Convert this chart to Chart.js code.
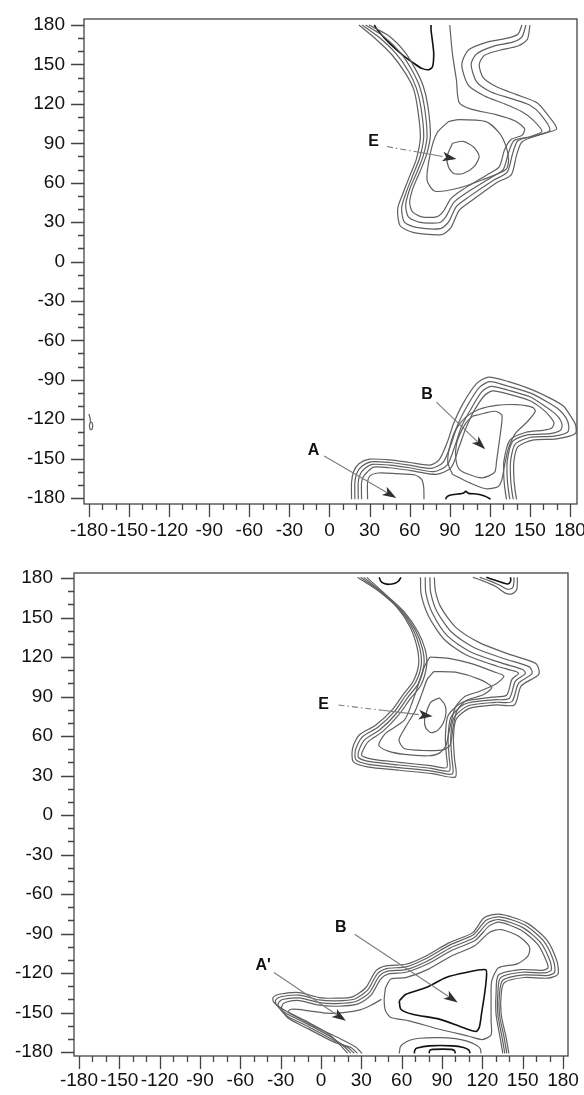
<!DOCTYPE html>
<html>
<head>
<meta charset="utf-8">
<script src="https://cdn.jsdelivr.net/npm/chart.js@4/dist/chart.umd.min.js"></script>
<style>
    html, body { margin: 0; padding: 0; background: #fff; }
    body { width: 584px; height: 1095px; position: relative; overflow: hidden; }
    canvas { position: absolute; left: 0; }
    #top { top: 0; }
    #bottom { top: 546px; }
</style>
</head>
<body>
<canvas id="top" width="584" height="546"></canvas>
<canvas id="bottom" width="584" height="549"></canvas>
<script>
"use strict";

// phi (x) / psi (y) tick labels, degrees
const tickValues = [-180, -150, -120, -90, -60, -30, 0, 30, 60, 90, 120, 150, 180];
const minorStep = 10;

// ---- upper map: contour lines as [phi, psi] ----
const topE1 = [[22,180],[35,169],[47,157],[57,143],[63,131],[66,116],[68,95],[65,78],[60,65],[55,52],[51,40],[53,27],[63,22],[84,20.5],[91,26],[97,39],[106,46],[125,60],[136,66],[140,81],[144,91],[158,97],[170,101],[163,112],[155,121],[140,127],[125,133],[115,140],[112,150],[116,157],[128,161],[141,164],[148,169],[150,180]];
const topE2 = [[24.5,180],[38,170],[50,158],[59,145],[65,132],[68.5,117],[70.5,95],[67.5,79],[62.5,66],[57.5,53],[54,41],[56,30],[65,26],[83,25],[89,30],[95,42],[104,49],[123,62],[133,68],[137,82],[141,92],[156,96],[165,100],[158,112],[150,119],[136,124],[121,129],[110,137],[106,150],[110,158],[123,164],[137,167],[144,171],[147,180]];
const topE3 = [[27,180],[41,171],[53,159],[61.5,146],[67.5,133],[71,118],[73,95],[70,80],[65,67],[60,55],[57,43],[59,34],[67,30],[82,29.5],[87,34],[93,45],[102,52],[121,64],[130,70],[134,83],[138,92],[150,95],[159,99],[152,108],[144,114],[131,120],[116,126],[104,134],[99,150],[104,161],[118,167],[133,170],[141,173],[144,180]];
const topE4 = [[29.5,180],[44,172],[56,160],[64,147],[70,134],[73.5,119],[75.5,96],[72.5,81],[67.5,68],[62.5,56],[60,45],[62,38],[69,34],[80,34],[85,38],[91,48],[100,55],[118,66],[127,72],[131,85],[136,93],[144,96],[146,101],[139,107],[124,112],[106,116],[97,121],[95,138],[92,158],[90,180]];
const topE5 = [[89,106.5],[97,108],[117,106.5],[127,98],[132,88],[134,77.5],[132,70],[114,62],[97,56],[79,53.5],[73,62],[75.5,82.5],[80.5,98],[89,106.5]];
const topE6 = [[92,90],[100,91.5],[108,87],[112,80],[108,72],[100,67],[93,67],[89,72],[88,80],[92,90]];
const topEcore = [[33.5,180],[36,176],[45,166],[55,157],[63,151],[69,147],[74,146],[77,148],[78,158],[77,168],[76,176],[76,180]];

const topB1 = [[16.5,-181],[16.5,-168],[18,-160],[22,-154],[30,-150.5],[45,-151],[60,-153],[75,-155],[82,-151],[88,-138],[93,-123],[100,-108],[110,-93],[119,-88],[134,-91.5],[150,-97],[165,-104],[175,-110],[180,-117],[184,-124],[184,-131],[170,-135],[152,-136],[141,-141],[138,-152],[138,-165],[139,-175],[140,-181]];
const topB2 = [[19,-181],[19,-168],[20.5,-161],[24,-156],[31,-152.5],[45,-153],[60,-155],[76,-157.5],[85,-153],[91,-139],[96,-124],[103,-110],[112,-96],[120,-91.5],[134,-95],[150,-100],[163,-107],[172,-113],[177,-119],[179,-125],[178,-130],[168,-133],[150,-134],[139,-139],[135.5,-152],[135.5,-165],[136.5,-175],[137.5,-181]];
const topB3 = [[21.5,-181],[21.5,-168],[23,-162],[26,-158],[32,-154.5],[45,-155],[60,-157],[78,-160],[88,-155],[94,-140],[99,-125],[106,-112],[114,-99],[121,-95],[134,-98],[150,-103],[161,-110],[169,-116],[173,-121],[174,-126],[172,-129],[165,-131],[148,-132],[137,-137],[133,-152],[133,-165],[134,-175],[135,-181]];
const topB4 = [[24,-181],[24,-168],[25.5,-163.5],[28.5,-160],[33,-156.5],[45,-157],[60,-159],[80,-162],[91,-157],[97,-141],[102,-127],[108,-114],[116,-102],[122,-98.5],[134,-101],[150,-106],[159,-112],[165,-118],[168,-123],[166,-127],[160,-128.5],[147,-130],[135,-136],[130.5,-152],[130.5,-165],[131.5,-175],[132.5,-181]];
const topB5 = [[92,-162],[88.5,-153],[90,-141],[94.5,-128],[102,-118.5],[112,-112.5],[125,-109.5],[140,-109],[152,-111],[154,-114],[148,-122],[139,-131],[134,-142],[131,-155],[129,-166],[126,-171.5],[117,-173],[105,-168.5],[92,-162]];
const topB6 = [[106.8,-117.8],[116,-115.5],[124.2,-114],[129,-117],[128,-130],[126.5,-141],[125,-152],[123.5,-160.5],[114.3,-164.7],[104,-162],[97,-158],[94.5,-150],[95,-139],[98,-130.5],[102,-123],[106.8,-117.8]];
const topA = [[28.5,-181],[28.5,-168],[30.5,-163],[37,-161],[50,-161.5],[64,-162.5],[69,-166],[70.5,-172],[70.7,-181]];
const topBcore = [[86.9,-181],[87.5,-179.5],[90,-178],[96,-177],[100,-176.5],[102,-175],[104,-176.5],[110,-177],[116,-178.5],[119,-180],[120.5,-181]];
const topWrap = [[-180,-116],[-179.2,-119],[-178.8,-122],[-177.6,-122.8],[-177.2,-125.5],[-178,-128],[-179.2,-127.6],[-179.6,-124.5],[-178.8,-122]];

// ---- lower map ----
const botE1 = [[27.2,180.5],[42.1,170.6],[56.2,158],[66.2,142.8],[71.4,127.6],[72.6,114.4],[68.7,101.8],[61.2,91.7],[53.3,80.3],[40.8,68.4],[28.4,60.8],[23.5,50.7],[24,40.5],[34.6,36.5],[58.2,34],[83.1,31.4],[100,28.9],[99.2,43.6],[98.5,58.8],[100.5,72.7],[110.4,81],[130.3,83.6],[143.9,83.6],[148.9,98],[162,106.8],[160,114.9],[140.2,122],[117.8,130.9],[100.5,142.3],[89.3,157.5],[85.1,170.1],[84.3,180.5]];
const botE2 = [[29.5,180.5],[44,169.6],[58,156.7],[68.2,141.5],[73.4,127.1],[74.6,114.2],[70.4,100.8],[62.7,90.4],[54.7,78.7],[42.3,66.6],[30.4,59],[25.7,49.6],[25.9,42],[35.4,38.5],[58.2,36],[82.6,33.4],[97.7,31.2],[97.2,44.1],[96.5,58.8],[98.7,73.7],[109.1,82.8],[129.5,85.6],[141.9,86.1],[146.9,100],[157,107.5],[155,112.5],[137,118.5],[114,127],[97,139],[86,155],[81.5,169.5],[81,180.5]];
const botE3 = [[31.8,180.5],[46,168.6],[60,155.4],[70.2,140.2],[75.4,126.6],[76.6,114],[72.4,99.8],[64.4,89.2],[56.2,77.3],[44,64.9],[32.6,57.3],[28,48.5],[28,43.5],[36.5,40.5],[58.2,38],[82,35.5],[95.5,33.5],[95.2,45],[94.5,58.8],[96.7,74.5],[107.5,84.5],[128.5,87.5],[140,88.5],[144.5,101.5],[152,107.5],[150,110.5],[134,115.5],[111,124],[94,136],[83,153],[78,168.5],[77.5,180.5]];
const botE4 = [[34,180.5],[48,167.6],[62,154.2],[72.2,139],[77.4,126],[78.6,113.8],[74.4,98.8],[66.2,88],[57.8,76],[45.8,63.3],[35,55.6],[30.5,47.5],[30.5,45],[37.8,42.5],[58.2,40],[81.5,37.5],[93.5,36],[93.2,46],[92.5,59],[94.5,75.5],[106,86],[127,89.5],[138,91],[142,103],[147,107.5],[145,109],[131,113],[108,121.5],[91.5,133.5],[80,151],[74.5,167.5],[74,180.5]];
const botE5 = [[81,120],[95,119],[112,115],[128,109],[136,105.5],[130,99.5],[118,94],[107,90],[100,82],[96,67],[93,53],[88,47],[80,45],[62,46],[50,48.5],[43,53],[48,62],[62,72],[68,86],[73,101],[77,113],[81,120]];
const botE6 = [[84,109],[100,108.5],[118,103],[127,97],[121,91.5],[108,87],[101,79],[98,65],[96,53],[91,49.5],[76,49],[62,50.5],[58,57],[63,67],[70,79],[75,92],[79,103],[84,109]];
const botE7 = [[88,89],[92,84],[93,78],[91,70],[87,64.5],[82,62.5],[78,66],[77,72],[79,80],[82,86],[88,89]];
const botEcore = [[43.3,180.5],[44.5,177.5],[47,175.8],[51,175.2],[55,176],[57.5,177.5],[59.5,180.5]];
const botT1 = [[113,180.5],[120,178],[130,173.5],[137,168.5],[142,168],[145.5,171],[146,177],[146,180.5]];
const botT2 = [[118,180.5],[125,178],[133,174.5],[138.5,171.5],[142.5,172.5],[143.5,177],[143.5,180.5]];
const botT3 = [[123,180.5],[129,178.5],[135,176.5],[139,175.5],[141,177.5],[141,180.5]];

const botB1 = [[19.7,-181],[16,-176.6],[6,-166.5],[-11.4,-156.3],[-26.3,-148.7],[-35,-142.4],[-35.7,-138.6],[-31.2,-136.1],[-16.3,-134.8],[-1.4,-138.6],[11,-139.1],[23.4,-138.1],[33.4,-131],[40.8,-118.4],[48.3,-114.6],[63.2,-113.3],[78.1,-107],[95.4,-96.9],[112.8,-89.3],[121.5,-77.9],[132.7,-75.3],[152.6,-81.7],[167.5,-94.3],[175.4,-110.8],[176.2,-120.9],[168.7,-123.9],[151.3,-123.4],[136.4,-127.2],[134,-136.1],[134,-151.3],[137.7,-169],[139.7,-181]];
const botB2 = [[22.2,-181],[18,-176.6],[7.3,-168.4],[-10.9,-158.3],[-25.8,-150.7],[-33.2,-144.1],[-33.7,-140.5],[-30,-138],[-16.3,-136.8],[-1.4,-140.4],[11,-141.1],[24.7,-139.9],[34.6,-133],[42,-120.4],[48.8,-116.6],[63.2,-115.3],[78.6,-108.7],[96,-98.6],[113.3,-91],[122.8,-79.9],[132.7,-77.4],[151.3,-83.4],[165.5,-95.6],[173,-110.8],[173.7,-119.6],[167.5,-121.9],[150.6,-121.4],[135.2,-125.5],[132.7,-136.1],[132.7,-151.3],[136.2,-169],[138.2,-181]];
const botB3 = [[24.7,-181],[20,-176.6],[8.5,-170.5],[-10.1,-160.4],[-25,-152.8],[-31.2,-146.2],[-31.7,-142.9],[-28.7,-140.1],[-16.3,-138.9],[-1.4,-142.4],[11.5,-143.2],[25.9,-141.6],[35.8,-135.1],[43.3,-122.4],[49.5,-118.6],[63.2,-117.4],[79.3,-110.8],[96.7,-100.6],[114.1,-93],[124,-81.9],[132.7,-79.4],[150.1,-85.5],[163.5,-97.1],[170.5,-111.3],[171.2,-117.9],[166.2,-119.9],[149.6,-119.4],[133.5,-123.5],[131.5,-136.1],[131.5,-151.3],[134.7,-169],[136.7,-181]];
const botB4 = [[27.1,-181],[22.2,-176.6],[9.8,-172.5],[-9.4,-162.4],[-23.8,-154.8],[-28.7,-148.7],[-29.2,-145.4],[-26.8,-142.4],[-16.3,-140.9],[-1.4,-144.4],[12,-145.2],[27.1,-143.6],[37.1,-137],[44.5,-124.4],[50.2,-120.6],[63.2,-119.4],[80,-112.8],[97.4,-102.7],[114.8,-95.1],[125.3,-84],[132.7,-81.4],[148.9,-87.5],[161.5,-98.6],[168,-111.8],[168.7,-116.3],[164.5,-117.9],[148.6,-117.4],[132,-121.5],[130.2,-136.1],[130.2,-151.3],[133.2,-169],[135.2,-181]];
const botA = [[30.5,-181],[25.5,-176],[12.5,-169],[-4,-161],[-19,-153],[-24.5,-149.5],[-22,-147.5],[-10,-148.5],[4,-150.5],[17,-150],[29,-148],[38,-144],[45,-140]];
const botB5 = [[48,-131],[52,-124.5],[63,-123.5],[80,-117],[97,-107],[114,-99.5],[125.5,-89],[134,-87],[147,-92],[155,-100],[154,-107],[146,-113],[132,-116],[127,-126],[126.5,-138],[126.5,-156],[126.5,-167],[120,-170.5],[110,-168],[88,-162.7],[65.6,-156.3],[52,-153.8],[48,-148.7],[47,-140],[48,-131]];
const botBcore = [[58.2,-141.1],[63.2,-136.1],[78.1,-131],[93,-123.4],[107.9,-119.6],[122.5,-117.5],[123,-124],[121.5,-137],[119.5,-150],[117.8,-161],[115.3,-164.4],[105.4,-161.4],[88,-155],[68.1,-151.3],[59.4,-147.5],[58.2,-141.1]];
const botC1 = [[58.2,-181],[59,-176],[60.7,-174],[66,-171],[73.1,-169.5],[88,-169],[100,-169.8],[108,-171.5],[115,-174.5],[118.5,-177.5],[119,-181]];
const botC2 = [[69.4,-181],[69.8,-178.5],[71.5,-177],[80.5,-175.3],[97.9,-175.3],[106,-176.5],[110,-178.5],[110.9,-181]];
const botC3 = [[80.5,-181],[80.8,-178.8],[83,-178],[90.5,-177.8],[97,-178],[99.3,-179],[99.9,-181]];

// ---- annotations (data coordinates) ----
const topNoteText = ['E', 'B', 'A'];
const topNoteAt = [[33, 91], [73, -101], [-12, -144]];
const topArrowFrom = [[43, 87.5], [80, -107], [-4, -148]];
const topArrowTo = [[95, 78], [116.5, -143], [50, -180]];
const topArrowDashed = [true, false, false];

const botNoteText = ['E', 'B', "A'"];
const botNoteAt = [[2, 84], [14.7, -85.5], [-43, -114.6]];
const botArrowFrom = [[13, 83.5], [25, -90.5], [-35, -119.6]];
const botArrowTo = [[83, 75], [101.7, -142.4], [18.5, -156.3]];
const botArrowDashed = [true, false, false];

const GRAY = '#606060', DARK = '#111', AXIS = '#444', INK = '#111';
const FONT = '"Liberation Sans", Arial, sans-serif';

function lineSet(pts, dark) {
    return {
        data: pts.map(p => ({x: p[0], y: p[1]})),
        showLine: true,
        pointRadius: 0,
        borderColor: dark ? DARK : GRAY,
        borderWidth: dark ? 1.6 : 1.2,
        tension: 0.25,
        fill: false
    };
}

function drawArrow(ctx, x0, y0, x1, y1, dashed) {
    const ang = Math.atan2(y1 - y0, x1 - x0),
        c = Math.cos(ang), s = Math.sin(ang),
        head = 14, half = 4.8,
        bx = x1 - head * c, by = y1 - head * s;
    ctx.strokeStyle = '#7d7d7d';
    ctx.lineWidth = 1.1;
    if (dashed) {
        const mx = x0 + (bx - x0) * 0.55, my = y0 + (by - y0) * 0.55;
        ctx.setLineDash([6, 3, 1.5, 3]);
        ctx.beginPath(); ctx.moveTo(x0, y0); ctx.lineTo(mx, my); ctx.stroke();
        ctx.setLineDash([]);
        ctx.beginPath(); ctx.moveTo(mx, my); ctx.lineTo(bx, by); ctx.stroke();
    } else {
        ctx.beginPath(); ctx.moveTo(x0, y0); ctx.lineTo(bx + 3 * c, by + 3 * s); ctx.stroke();
    }
    ctx.fillStyle = '#303030';
    ctx.beginPath();
    ctx.moveTo(x1, y1);
    ctx.lineTo(bx - half * s, by + half * c);
    ctx.lineTo(x1 - head * 0.75 * c, y1 - head * 0.75 * s);
    ctx.lineTo(bx + half * s, by - half * c);
    ctx.closePath();
    ctx.fill();
}

function panel(canvas, gray, dark, notes, box) {
    const datasets = gray.map(p => lineSet(p, false)).concat(dark.map(p => lineSet(p, true)));

    const decor = {
        id: 'decor',
        afterDraw(chart) {
            const {ctx, chartArea: a, scales: {x, y}} = chart;
            ctx.save();
            ctx.strokeStyle = AXIS;
            ctx.lineWidth = 1.3;
            ctx.strokeRect(a.left, a.top, a.right - a.left, a.bottom - a.top);
            ctx.beginPath();
            for (let v = tickValues[0]; v <= tickValues[tickValues.length - 1]; v += minorStep) {
                const len = tickValues.includes(v) ? 13 : 6,
                    px = Math.round(x.getPixelForValue(v)) + 0.5,
                    py = Math.round(y.getPixelForValue(v)) + 0.5;
                ctx.moveTo(px, a.bottom); ctx.lineTo(px, a.bottom + len);
                ctx.moveTo(a.left, py); ctx.lineTo(a.left - len, py);
            }
            ctx.stroke();

            notes.text.forEach((t, i) => {
                drawArrow(ctx,
                    x.getPixelForValue(notes.from[i][0]), y.getPixelForValue(notes.from[i][1]),
                    x.getPixelForValue(notes.to[i][0]), y.getPixelForValue(notes.to[i][1]),
                    notes.dashed[i]);
                ctx.fillStyle = INK;
                ctx.font = 'bold 16px ' + FONT;
                ctx.textAlign = 'center';
                ctx.textBaseline = 'middle';
                ctx.fillText(t, x.getPixelForValue(notes.at[i][0]), y.getPixelForValue(notes.at[i][1]));
            });
            ctx.restore();
        }
    };

    const axis = (range, pad, fit) => ({
        type: 'linear',
        min: range[0],
        max: range[1],
        afterBuildTicks: s => { s.ticks = tickValues.map(v => ({value: v})); },
        ticks: {
            color: INK,
            font: {family: FONT, size: 19},
            padding: pad,
            autoSkip: false,
            maxRotation: 0,
            minRotation: 0,
            callback: v => String(v)
        },
        grid: {display: false, drawTicks: false},
        border: {display: false},
        afterFit: fit
    });

    return new Chart(canvas, {
        type: 'scatter',
        data: {datasets},
        options: {
            responsive: false,
            animation: false,
            devicePixelRatio: 1,
            layout: {padding: {left: 0, top: box.top, right: box.right, bottom: 0}},
            plugins: {legend: {display: false}, tooltip: {enabled: false}},
            scales: {
                x: axis(box.x, box.xPad, s => {
                    s.height = box.xH; s.paddingLeft = 0; s.paddingRight = 0;
                }),
                y: axis(box.y, box.yPad, s => {
                    s.width = box.left; s.paddingTop = 0; s.paddingBottom = 0;
                })
            }
        },
        plugins: [decor]
    });
}

panel(document.getElementById('top'),
    [topE1, topE2, topE3, topE4, topE5, topE6, topB1, topB2, topB3, topB4, topB5, topB6, topA, topWrap],
    [topEcore, topBcore],
    {text: topNoteText, at: topNoteAt, from: topArrowFrom, to: topArrowTo, dashed: topArrowDashed},
    {left: 84, top: 19, right: 7, xH: 42, x: [-183.7, 185.2], y: [-184.6, 184.6], xPad: 15, yPad: 19});

panel(document.getElementById('bottom'),
    [botE1, botE2, botE3, botE4, botE5, botE6, botE7, botT1, botT2, botB1, botB2, botB3, botB4, botA, botB5, botC1],
    [botEcore, botT3, botBcore, botC2, botC3],
    {text: botNoteText, at: botNoteAt, from: botArrowFrom, to: botArrowTo, dashed: botArrowDashed},
    {left: 74, top: 27, right: 16, xH: 39, x: [-183.7, 183.7], y: [-183, 183.8], xPad: 13, yPad: 21});
</script>
</body>
</html>
